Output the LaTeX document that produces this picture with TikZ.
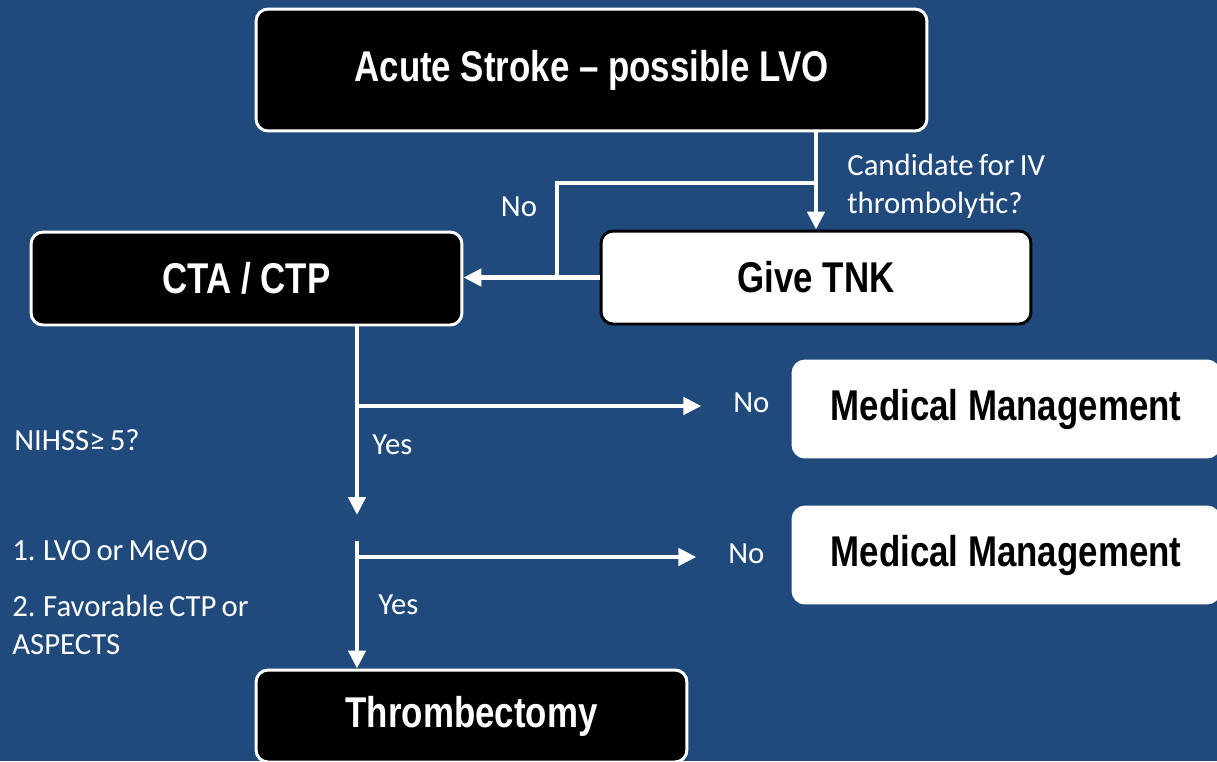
\documentclass[tikz,border=0pt]{standalone}
\usepackage{fontspec}
\setmainfont[WordSpace=0.75]{Carlito}
\newfontfamily\boxfont[FakeStretch=0.81]{Liberation Sans}
\usetikzlibrary{arrows.meta}
\definecolor{slide}{RGB}{32,74,124}
\begin{document}
\begin{tikzpicture}[x=0.02cm,y=-0.02cm,
  darkbox/.style={draw=white,fill=black,text=white,line width=1.7pt,rounded corners=0.24cm,inner sep=0pt,
    font=\boxfont\bfseries\fontsize{24.5pt}{28pt}\selectfont},
  lightbox/.style={darkbox,draw=black,fill=white,text=black},
  flow/.style={draw=white,line width=2.8pt,-{Triangle[width=0.34cm,length=0.36cm]}},
  lbl/.style={text=white,inner sep=0pt,align=left,font=\fontsize{17.5pt}{21.5pt}\selectfont}]
\useasboundingbox (0,0) rectangle (1217,761);
\fill[slide] (0,0) rectangle (1217,761);
% boxes
\node[darkbox,minimum width=13.42cm,minimum height=2.44cm] (acute) at (591.5,70) {Acute Stroke – possible LVO};
\node[lightbox,minimum width=8.6cm,minimum height=1.86cm] (tnk) at (816,277.5) {Give TNK};
\node[darkbox,minimum width=8.62cm,minimum height=1.86cm] (cta) at (246.5,278.5) {CTA / CTP};
\node[lightbox,draw=white,minimum width=8.52cm,minimum height=1.92cm] (med1) at (1006,409) {Medical Management};
\node[lightbox,draw=white,minimum width=8.52cm,minimum height=1.92cm] (med2) at (1006,555) {Medical Management};
\node[darkbox,minimum width=8.62cm,minimum height=1.84cm] (thromb) at (471.5,716) {Thrombectomy};
% labels
\node[lbl,anchor=north west] (cand) at (847,154) {Candidate for IV\\thrombolytic?};
\node[lbl] (no0) at (519,207) {No};
\node[lbl,anchor=west] (no1) at (733,403) {No};
\node[lbl,anchor=west] (no2) at (728,554) {No};
\node[lbl,anchor=west] (yes1) at (372,445) {Yes};
\node[lbl,anchor=west] (yes2) at (378,605) {Yes};
\node[lbl,anchor=west] (nihss) at (14,440) {NIHSS≥ 5?};
\node[lbl,anchor=west] (crit1) at (12,551) {1. LVO or MeVO};
\node[lbl,anchor=north west] (crit2) at (12,595) {2. Favorable CTP or\\ASPECTS};
% connectors
\coordinate (split) at (817,183);
\coordinate (join) at (557,278);
\coordinate (t1) at (357,515);
\coordinate (b1) at (357,406);
\coordinate (s2) at (357,541);
\coordinate (b2) at (357,557);
\draw[flow] (acute.south -| tnk.north) -- (tnk.north);
\draw[draw=white,line width=2.8pt] (split) -| (join);
\draw[flow] (tnk.west) -- (tnk.west -| cta.east);
\draw[flow] (cta.south -| t1) -- (t1);
\draw[flow,shorten >=18pt] (b1) -- (b1 -| no1.west);
\draw[flow] (s2) -- (s2 |- thromb.north);
\draw[flow,shorten >=18pt] (b2) -- (b2 -| no2.west);
\end{tikzpicture}
\end{document}
